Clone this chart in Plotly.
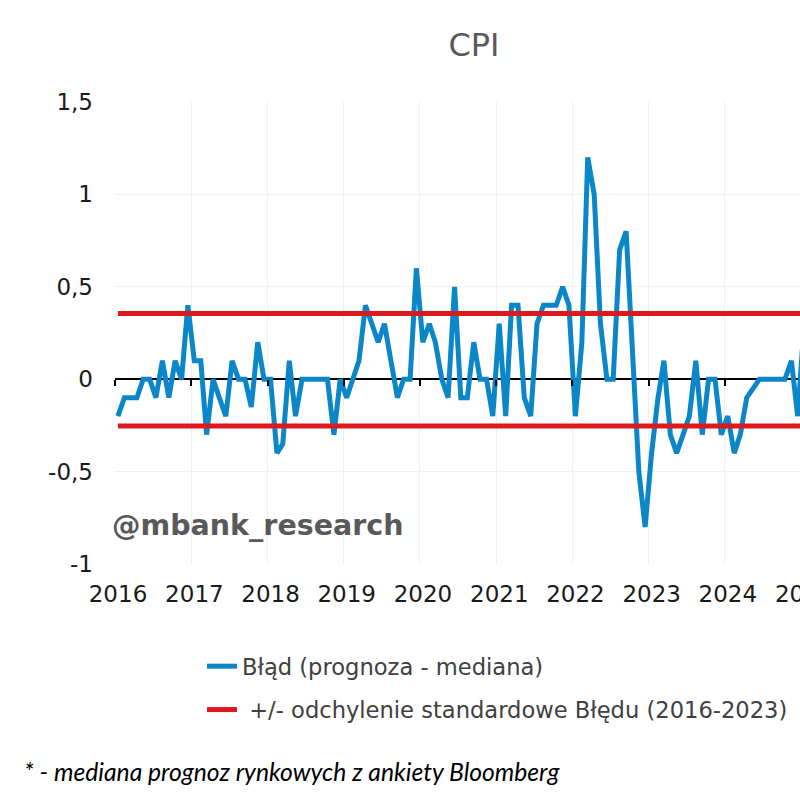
import pandas as pd
import plotly.graph_objects as go

# blad prognozy CPI (prognoza - mediana), miesiecznie od 2016-01
blad = [
    -0.2, -0.1, -0.1, -0.1, 0.0, 0.0, -0.1, 0.1, -0.1, 0.1, 0.0, 0.4,      # 2016
    0.1, 0.1, -0.3, 0.0, -0.1, -0.2, 0.1, 0.0, 0.0, -0.15, 0.2, 0.0,       # 2017
    0.0, -0.4, -0.35, 0.1, -0.2, 0.0, 0.0, 0.0, 0.0, 0.0, -0.3, 0.0,       # 2018
    -0.1, 0.0, 0.1, 0.4, 0.3, 0.2, 0.3, 0.1, -0.1, 0.0, 0.0, 0.6,          # 2019
    0.2, 0.3, 0.2, 0.0, -0.1, 0.5, -0.1, -0.1, 0.2, 0.0, 0.0, -0.2,        # 2020
    0.3, -0.2, 0.4, 0.4, -0.1, -0.2, 0.3, 0.4, 0.4, 0.4, 0.5, 0.4,         # 2021
    -0.2, 0.2, 1.2, 1.0, 0.3, 0.0, 0.0, 0.7, 0.8, 0.2, -0.5, -0.8,         # 2022
    -0.4, -0.1, 0.1, -0.3, -0.4, -0.3, -0.2, 0.1, -0.3, 0.0, 0.0, -0.3,    # 2023
    -0.2, -0.4, -0.3, -0.1, -0.05, 0.0, 0.0, 0.0, 0.0, 0.0, 0.1, -0.2,     # 2024
    0.3,                                                                   # 2025
]
odch_gora = 0.355
odch_dol = -0.253

lata = list(range(2016, 2026))
y_ticks = [-1, -0.5, 0, 0.5, 1, 1.5]
y_labels = ["-1", "-0,5", "0", "0,5", "1", "1,5"]

miesiace = pd.date_range("2016-01-01", periods=len(blad), freq="MS") + pd.Timedelta(days=14)
lata_daty = [f"{r}-01-01" for r in lata]

W, H = 860, 800
L, T, B = 115, 102, 236
plot_w = 724

fig = go.Figure()

fig.add_trace(go.Scatter(x=miesiace, y=blad, mode="lines", name="Błąd (prognoza - mediana)",
                         legendgroup="blad", line=dict(color="#0a86c9", width=5)))
fig.add_trace(go.Scatter(x=miesiace, y=[odch_gora] * len(miesiace), mode="lines", xaxis="x2",
                         name="\u00a0+/- odchylenie standardowe Błędu (2016-2023)",
                         legendgroup="odch", line=dict(color="#dc1a1d", width=5)))
fig.add_trace(go.Scatter(x=miesiace, y=[odch_dol] * len(miesiace), mode="lines", xaxis="x2",
                         showlegend=False, legendgroup="odch", line=dict(color="#dc1a1d", width=5)))

tick_font = dict(family="DejaVu Sans", size=23, color="#1a1a1a")

fig.update_layout(
    width=W, height=H, autosize=False,
    margin=dict(l=L, r=W - L - plot_w, t=T, b=B, pad=0, autoexpand=False),
    plot_bgcolor="white", paper_bgcolor="white",
    title=dict(text="CPI", x=474 / W, xref="container", xanchor="center",
               y=1 - 45 / H, yref="container", yanchor="middle",
               font=dict(family="DejaVu Sans", size=32, color="#595959")),
    xaxis=dict(type="date", range=["2016-01-01", "2025-07-01"], tickvals=lata_daty,
               ticktext=[str(r) for r in lata], ticklabelshift=3, ticklabelstandoff=14,
               showgrid=True, gridcolor="#f0f0f0", gridwidth=1, showline=False, ticks="",
               zeroline=False, tickfont=tick_font, automargin=False),
    xaxis2=dict(type="date", overlaying="x", matches="x", anchor="free", position=0.4,
                tickvals=lata_daty, showticklabels=False, ticks="outside", ticklen=6,
                tickwidth=1.5, tickcolor="black", showgrid=False, showline=False,
                zeroline=False),
    yaxis=dict(range=[-1, 1.5], tickvals=y_ticks, ticktext=y_labels, showgrid=True,
               gridcolor="#f0f0f0", gridwidth=1, zeroline=True, zerolinecolor="black",
               zerolinewidth=1.5, showline=False, ticks="", ticklabelstandoff=21,
               tickfont=tick_font, automargin=False),
    legend=dict(xref="container", yref="container", x=202 / W, y=1 - 645 / H,
                xanchor="left", yanchor="top", tracegroupgap=11, bgcolor="rgba(0,0,0,0)",
                font=dict(family="DejaVu Sans", size=22.6, color="#404040")),
    showlegend=True,
)

fig.add_annotation(text="@mbank_research", xref="paper", yref="paper",
                   x=(110 - L) / plot_w, y=(564 - 525) / 462, xanchor="left", yanchor="middle",
                   showarrow=False,
                   font=dict(family="DejaVu Sans", size=28.5, color="#595959", weight="bold"))
fig.add_annotation(text="* - mediana prognoz rynkowych z ankiety Bloomberg", xref="paper", yref="paper",
                   x=(22 - L) / plot_w, y=(564 - 771) / 462, xanchor="left", yanchor="middle",
                   showarrow=False,
                   font=dict(family="Lato", size=24.7, color="black", style="italic"))

fig.write_html("out.html", config=dict(displayModeBar=False),
               post_script="document.body.style.margin='0';"
                           "document.body.style.overflow='hidden';"
                           "document.documentElement.style.overflow='hidden';")
